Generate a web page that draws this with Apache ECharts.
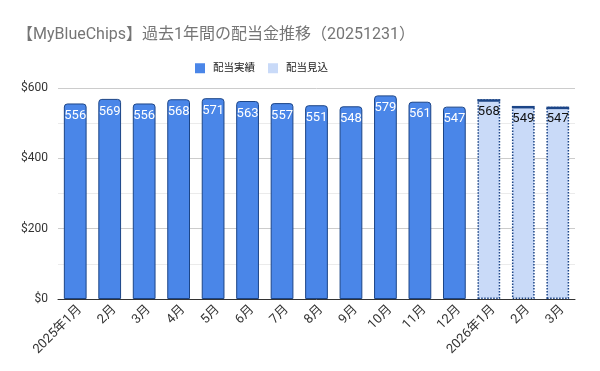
<!DOCTYPE html>
<html><head><meta charset="utf-8">
<script src="https://cdn.jsdelivr.net/npm/echarts@6/dist/echarts.min.js"></script>
<style>html,body{margin:0;padding:0;background:#fff}#c{width:600px;height:371px}</style>
</head><body><div id="c"></div>
<script>
const categories = ['2025年1月','2月','3月','4月','5月','6月','7月','8月','9月','10月','11月','12月','2026年1月','2月','3月'];
const actualValues = [556,569,556,568,571,563,557,551,548,579,561,547,null,null,null];
const forecastValues = [null,null,null,null,null,null,null,null,null,null,null,null,568,549,547];
const yTicks = [0,200,400,600];

const FF = "Roboto, 'Noto Sans CJK JP', sans-serif";
const chart = echarts.init(document.getElementById('c'));
chart.setOption({
  animation:false,
  textStyle:{fontFamily:FF},
  title:{text:'【MyBlueChips】過去1年間の配当金推移（20251231）',left:12,top:22,
    textStyle:{fontFamily:FF,fontSize:16,fontWeight:'normal',color:'#757575'}},
  legend:{top:58,left:190,itemWidth:10,itemHeight:10,itemGap:13,
    icon:'rect',itemStyle:{borderWidth:0},
    textStyle:{fontFamily:FF,fontSize:10.5,color:'#222',padding:[0,0,0,3]},
    data:['配当実績','配当見込']},
  grid:{left:58,right:25,top:88,bottom:72},
  xAxis:{type:'category',data:categories,
    axisLine:{lineStyle:{color:'#333'}},axisTick:{show:false},
    axisLabel:{rotate:45,interval:0,fontSize:13,color:'#333',fontFamily:FF,margin:4,verticalAlign:'top'}},
  yAxis:{type:'value',min:yTicks[0],max:yTicks[yTicks.length-1],interval:200,
    axisLabel:{formatter:'${value}',fontSize:12,color:'#333',fontFamily:FF,margin:10},
    splitLine:{lineStyle:{color:'#ccc'}},
    minorTick:{show:false,splitNumber:2},
    minorSplitLine:{show:true,lineStyle:{color:'#ebebeb'}}},
  series:[
    {name:'配当実績',type:'bar',stack:'s',data:actualValues,barWidth:'66%',
     itemStyle:{color:'#4a86e8',borderColor:'#1c4587',borderWidth:1,borderRadius:[3,3,0,0]},
     label:{show:true,position:'insideTop',distance:6,color:'#fff',fontSize:13,fontFamily:FF}},
    {name:'配当見込',type:'bar',stack:'s',data:forecastValues,barWidth:'66%',
     itemStyle:{color:'#c9daf8',borderColor:'#1c4587',borderWidth:1.5,borderType:'dotted'},
     label:{show:true,position:'insideTop',distance:6,color:'#111',fontSize:13,fontFamily:FF}},
    {name:'見込上辺',type:'pictorialBar',data:forecastValues,barWidth:'66%',
     symbol:'rect',symbolPosition:'end',symbolSize:['100%',2.5],symbolOffset:[0,0],
     itemStyle:{color:'#1c4587'},silent:true,z:5}
  ]
});
</script></body></html>
